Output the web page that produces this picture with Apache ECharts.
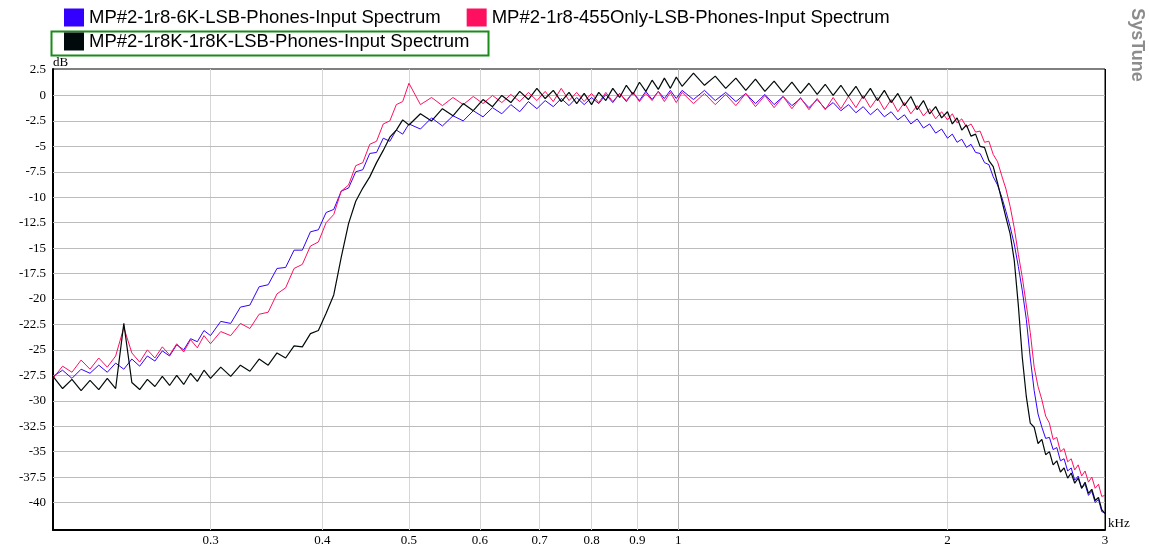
<!DOCTYPE html>
<html>
<head>
<meta charset="utf-8">
<script src="https://cdn.jsdelivr.net/npm/echarts@6/dist/echarts.min.js"></script>
<style>
html, body { margin: 0; padding: 0; background: #fff; }
#chart { width: 1149px; height: 550px; }
</style>
</head>
<body>
<div id="chart"></div>
<script>
// frequency grid, kHz
var freqKHz = [
	0.200,0.205,0.210,0.215,0.220,0.225,0.230,0.235,0.240,0.245,0.250,0.255,0.260,0.265,0.270,0.275,0.280,0.285,0.290,0.295,
	0.300,0.308,0.316,0.324,0.332,0.340,0.348,0.356,0.364,0.372,0.380,0.388,0.396,0.404,0.412,0.420,0.428,0.436,0.444,0.452,0.460,0.468,0.476,0.484,0.492,
	0.500,0.515,0.530,0.545,0.560,0.575,0.590,0.605,0.620,0.635,0.650,0.665,0.680,0.695,0.710,0.725,0.740,0.755,0.770,0.785,0.800,0.815,0.830,0.845,0.860,0.875,0.890,0.905,0.920,0.935,0.950,0.965,0.980,0.995,
	1.01,1.04,1.07,1.10,1.13,1.16,1.19,1.22,1.25,1.28,1.31,1.34,1.37,1.40,1.43,1.46,1.49,1.52,1.55,1.58,1.61,1.64,1.67,1.70,1.73,1.76,1.79,1.82,1.85,1.88,1.91,1.94,1.97,
	2.000,2.025,2.050,2.075,2.100,2.125,2.150,2.175,2.200,2.225,2.250,2.275,2.300,2.325,2.350,2.375,2.400,2.425,2.450,2.475,2.500,2.525,2.550,2.575,2.600,2.625,2.650,2.675,2.700,2.725,2.750,2.775,2.800,2.825,2.850,2.875,2.900,2.925,2.950,2.975,3.000
];

// MP#2-1r8-6K (blue), dB
var db6K = [
	-27.6,-27.0,-27.8,-26.9,-27.3,-26.5,-27.2,-26.3,-26.9,-25.9,-26.6,-25.6,-26.1,-25.1,-25.6,-24.5,-25.0,-23.9,-24.2,-23.1,
	-23.6,-22.2,-22.4,-20.8,-20.6,-18.8,-18.6,-17.0,-16.9,-15.2,-15.2,-13.4,-13.2,-11.5,-11.2,-9.4,-9.1,-7.5,-7.3,-5.7,-5.6,-4.2,-4.5,-3.4,-3.8,
	-2.8,-3.3,-2.2,-3.0,-2.0,-2.5,-1.5,-2.1,-1.2,-1.8,-0.9,-1.6,-0.6,-1.3,-0.5,-1.1,-0.3,-1.0,-0.2,-0.9,-0.2,-0.8,0.1,-0.7,0.2,-0.6,0.3,-0.5,0.4,-0.4,0.4,-0.3,0.5,-0.3,
	0.5,-0.4,0.5,-0.5,0.3,-0.6,0.2,-0.8,0.1,-0.9,-0.1,-1.0,-0.3,-1.2,-0.4,-1.3,-0.7,-1.5,-0.9,-1.7,-1.1,-1.9,-1.3,-2.1,-1.6,-2.4,-1.9,-2.8,-2.3,-3.2,-2.8,-3.7,-3.3,
	-4.2,-3.8,-4.6,-4.3,-5.1,-4.8,-5.6,-5.7,-6.6,-6.8,-8.0,-8.8,-10.0,-11.4,-12.9,-14.6,-16.8,-19.2,-22.0,-25.8,-29.0,-31.3,-32.6,-33.7,-33.6,-34.8,-34.6,-35.9,-35.7,-36.9,-36.6,-37.8,-37.4,-38.6,-38.2,-39.3,-38.9,-40.0,-39.7,-40.9,-41.0
];

// MP#2-1r8-455Only (pink)
var db455 = [
	-27.8,-26.6,-27.2,-26.0,-26.9,-25.8,-26.7,-25.6,-22.8,-25.3,-26.2,-25.0,-25.8,-24.7,-25.5,-24.4,-25.2,-24.0,-24.8,-23.6,
	-24.4,-23.2,-23.6,-22.4,-22.9,-21.5,-21.3,-19.5,-18.9,-17.0,-16.6,-14.8,-14.4,-12.5,-11.7,-9.4,-8.8,-6.9,-6.6,-4.8,-4.5,-2.8,-2.5,-0.9,-0.6,
	1.2,-0.9,-0.2,-1.0,-0.2,-0.9,-0.1,-0.8,0.0,-0.7,0.1,-0.6,0.3,-0.5,0.4,-0.6,0.7,-0.5,0.3,-0.6,0.2,-0.7,0.3,-0.6,0.2,-0.5,0.3,-0.6,0.2,-0.5,0.4,-0.6,0.3,-0.7,
	0.3,-0.8,0.2,-0.9,0.1,-1.0,0.2,-1.1,0.0,-1.2,-0.1,-1.3,-0.2,-1.4,-0.3,-1.4,-0.2,-1.3,-0.1,-1.2,0.0,-1.2,-0.2,-1.4,-0.4,-1.6,-0.7,-1.8,-1.0,-2.0,-1.3,-2.3,-1.6,
	-2.4,-1.8,-2.7,-2.3,-3.1,-2.8,-3.6,-3.5,-4.6,-4.5,-5.8,-6.5,-7.9,-9.2,-10.9,-13.0,-15.6,-17.9,-20.6,-23.3,-26.7,-28.6,-29.9,-31.5,-32.2,-33.8,-33.6,-35.0,-34.7,-36.0,-35.7,-36.8,-36.3,-37.4,-36.9,-38.0,-37.5,-38.6,-38.2,-39.4,-39.3
];

// MP#2-1r8K-1r8K (black)
var db1r8K = [
	-27.6,-28.8,-27.9,-29.0,-28.0,-28.9,-27.8,-28.8,-22.4,-28.2,-28.9,-27.9,-28.6,-27.6,-28.5,-27.5,-28.4,-27.3,-28.1,-27.0,
	-27.8,-26.7,-27.6,-26.5,-27.1,-25.9,-26.5,-25.3,-25.8,-24.6,-24.7,-23.4,-23.1,-21.4,-19.6,-15.9,-12.6,-10.4,-9.1,-8.0,-6.6,-5.4,-4.1,-3.4,-2.4,
	-2.9,-1.8,-2.5,-1.3,-2.0,-0.8,-1.5,-0.4,-1.1,0.0,-0.7,0.4,-0.4,0.7,-0.3,0.5,-0.6,0.3,-0.8,0.2,-0.9,0.3,-0.5,0.7,-0.2,1.0,0.1,1.3,0.4,1.5,0.6,1.7,0.7,1.8,
	0.9,2.2,1.0,1.9,0.7,1.7,0.5,1.6,0.4,1.4,0.3,1.3,0.2,1.2,0.1,1.1,0.0,1.0,-0.1,0.9,-0.3,0.7,-0.5,0.5,-0.7,0.2,-1.0,-0.1,-1.4,-0.5,-1.8,-1.1,-2.2,
	-1.6,-2.8,-2.2,-3.4,-2.9,-4.0,-3.8,-5.0,-5.1,-6.4,-7.0,-8.6,-10.3,-12.0,-13.6,-16.2,-20.6,-25.8,-29.6,-32.2,-32.6,-34.2,-33.8,-35.3,-35.0,-36.3,-35.9,-37.0,-36.6,-37.6,-37.1,-38.1,-37.6,-38.6,-38.0,-39.1,-38.7,-39.8,-39.5,-40.7,-41.1
];

var xTicks = [0.3, 0.4, 0.5, 0.6, 0.7, 0.8, 0.9, 1, 2, 3];
var yTicks = [-40,-37.5,-35,-32.5,-30,-27.5,-25,-22.5,-20,-17.5,-15,-12.5,-10,-7.5,-5,-2.5,0,2.5];

var names = [
	'MP#2-1r8-6K-LSB-Phones-Input Spectrum',
	'MP#2-1r8-455Only-LSB-Phones-Input Spectrum',
	'MP#2-1r8K-1r8K-LSB-Phones-Input Spectrum'
];
var colors = ['#3300ff', '#ff0f5f', '#000a0a'];

function pairs(vals) {
	return freqKHz.map(function(f, i) { return [f, vals[i]]; });
}

var serifFont = '"Liberation Serif", serif';
var sansFont = '"Liberation Sans", Arial';

// grid lines (drawn under the curves); the top one sits on the frame
var gridLines = [];
xTicks.forEach(function(v) {
	var c = '#d6d6d6';
	if (v === 1) c = '#b4b4b4';
	if (v === 3) c = '#000';
	gridLines.push({
		xAxis: v,
		lineStyle: { color: c, width: 1, type: 'solid' },
		label: { show: true, position: 'start', distance: 4, formatter: String(v),
			fontFamily: serifFont, fontSize: 13, color: '#000' }
	});
});
yTicks.forEach(function(v) {
	if (v === 2.5) return;
	gridLines.push({
		yAxis: v,
		lineStyle: { color: '#bcbcbc', width: 1, type: 'solid' },
		label: { show: false }
	});
});

var legendText = { fontFamily: sansFont, fontSize: 18.5, color: '#000' };

var myChart = echarts.init(document.getElementById('chart'));
var option = {
	animation: false,
	backgroundColor: '#fff',
	legend: [
		{
			data: [names[0], names[1]],
			left: 64, top: 8, padding: 0,
			icon: 'rect', itemWidth: 20, itemHeight: 18, itemGap: 26,
			textStyle: legendText
		},
		{
			data: [names[2]],
			left: 64, top: 32, padding: 0,
			icon: 'rect', itemWidth: 20, itemHeight: 18,
			textStyle: legendText
		}
	],
	graphic: [
		{
			type: 'rect', left: 49, top: 29, silent: true,
			shape: { width: 437, height: 24 },
			style: { fill: 'none', stroke: '#1a8c1a', lineWidth: 2 }
		},
		{
			type: 'text', x: 1137, y: 45, rotation: -Math.PI / 2, silent: true,
			style: { text: 'SysTune', align: 'center', verticalAlign: 'middle',
				fill: '#8c8c8c', font: 'bold 18px "Liberation Sans", Arial' }
		}
	],
	grid: {
		left: 53, right: 44, top: 69, bottom: 20,
		show: true, borderColor: '#000', borderWidth: 1
	},
	xAxis: {
		type: 'log', logBase: 10, min: 0.2, max: 3,
		name: 'kHz', nameLocation: 'end', nameGap: 3,
		nameTextStyle: { align: 'left', verticalAlign: 'bottom', fontFamily: serifFont, fontSize: 13, color: '#000' },
		axisLine: { show: true, onZero: false, lineStyle: { color: '#000', width: 2 } },
		axisTick: { show: false },
		axisLabel: { show: false },
		splitLine: { show: false }
	},
	yAxis: {
		type: 'value', min: -42.7, max: 2.6,
		name: 'dB', nameLocation: 'end', nameGap: 0,
		nameTextStyle: { align: 'left', verticalAlign: 'bottom', fontFamily: serifFont, fontSize: 13, color: '#000' },
		axisLine: { show: true, onZero: false, lineStyle: { color: '#000', width: 2 } },
		axisTick: { show: false },
		axisLabel: { customValues: yTicks, margin: 7, fontFamily: serifFont, fontSize: 13, color: '#000' },
		splitLine: { show: false }
	},
	series: [
		{
			type: 'line', data: [], z: 1, silent: true,
			markLine: { silent: true, symbol: ['none', 'none'], z: 1, animation: false, data: gridLines }
		},
		{ name: names[0], type: 'line', data: pairs(db6K), showSymbol: false, z: 2,
			itemStyle: { color: colors[0] }, lineStyle: { width: 1, color: colors[0] } },
		{ name: names[1], type: 'line', data: pairs(db455), showSymbol: false, z: 3,
			itemStyle: { color: colors[1] }, lineStyle: { width: 1, color: colors[1] } },
		{ name: names[2], type: 'line', data: pairs(db1r8K), showSymbol: false, z: 4,
			itemStyle: { color: colors[2] }, lineStyle: { width: 1.2, color: colors[2] } }
	]
};
myChart.setOption(option);
</script>
</body>
</html>
